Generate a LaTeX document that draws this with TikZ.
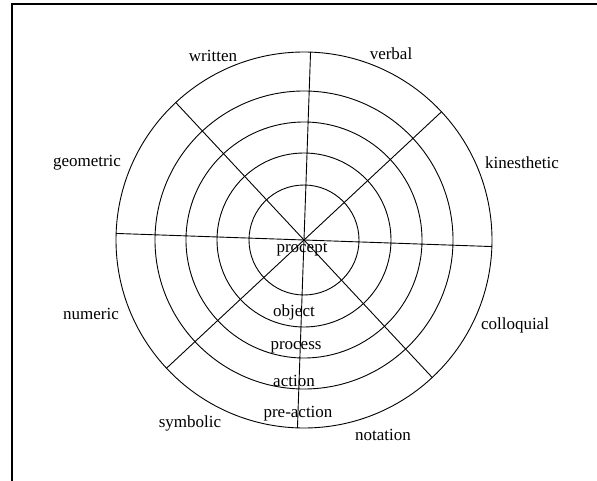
\documentclass[tikz,border=0pt]{standalone}
\usepackage{fontspec}
\setmainfont{Liberation Serif}
\usetikzlibrary{calc}
\tikzset{ring/.style={draw,line width=0.9pt},
  lbl/.style={inner sep=0pt,font=\fontsize{17}{20}\selectfont}}
\begin{document}
\begin{tikzpicture}[x=1pt,y=-1pt]
\useasboundingbox (0,0) rectangle (597,481);
\draw[line width=2.5pt] (12,481) -- (12,4) -- (597,4);
\coordinate (c) at (304,240);
% rings and spokes
\foreach \r in {55,87,118,149,188}{\path[ring] (c) circle (\r);}
\foreach \a in {2,-43,-88,-133}{
  \coordinate (p\a) at ($(c)+(\a:188)$);
  \coordinate (q\a) at ($(c)+(\a+180:188)$);
  \draw[line width=0.9pt] (p\a) -- (q\a);}
% level labels
\node[lbl] (procept) at (302,250) {procept};
\node[lbl] (object) at (294,312) {object};
\node[lbl] (process) at (296,347) {process};
\node[lbl] (action) at (294,381) {action};
\node[lbl] (preaction) at (298,414) {pre-action};
% representation labels
\node[lbl] (written) at (213,56) {written};
\node[lbl] (verbal) at (391,54) {verbal};
\node[lbl] (kinesthetic) at (522,163) {kinesthetic};
\node[lbl] (geometric) at (87,163) {geometric};
\node[lbl] (numeric) at (91,314) {numeric};
\node[lbl] (colloquial) at (515,325) {colloquial};
\node[lbl] (symbolic) at (190,423) {symbolic};
\node[lbl] (notation) at (383,435) {notation};
\end{tikzpicture}
\end{document}
